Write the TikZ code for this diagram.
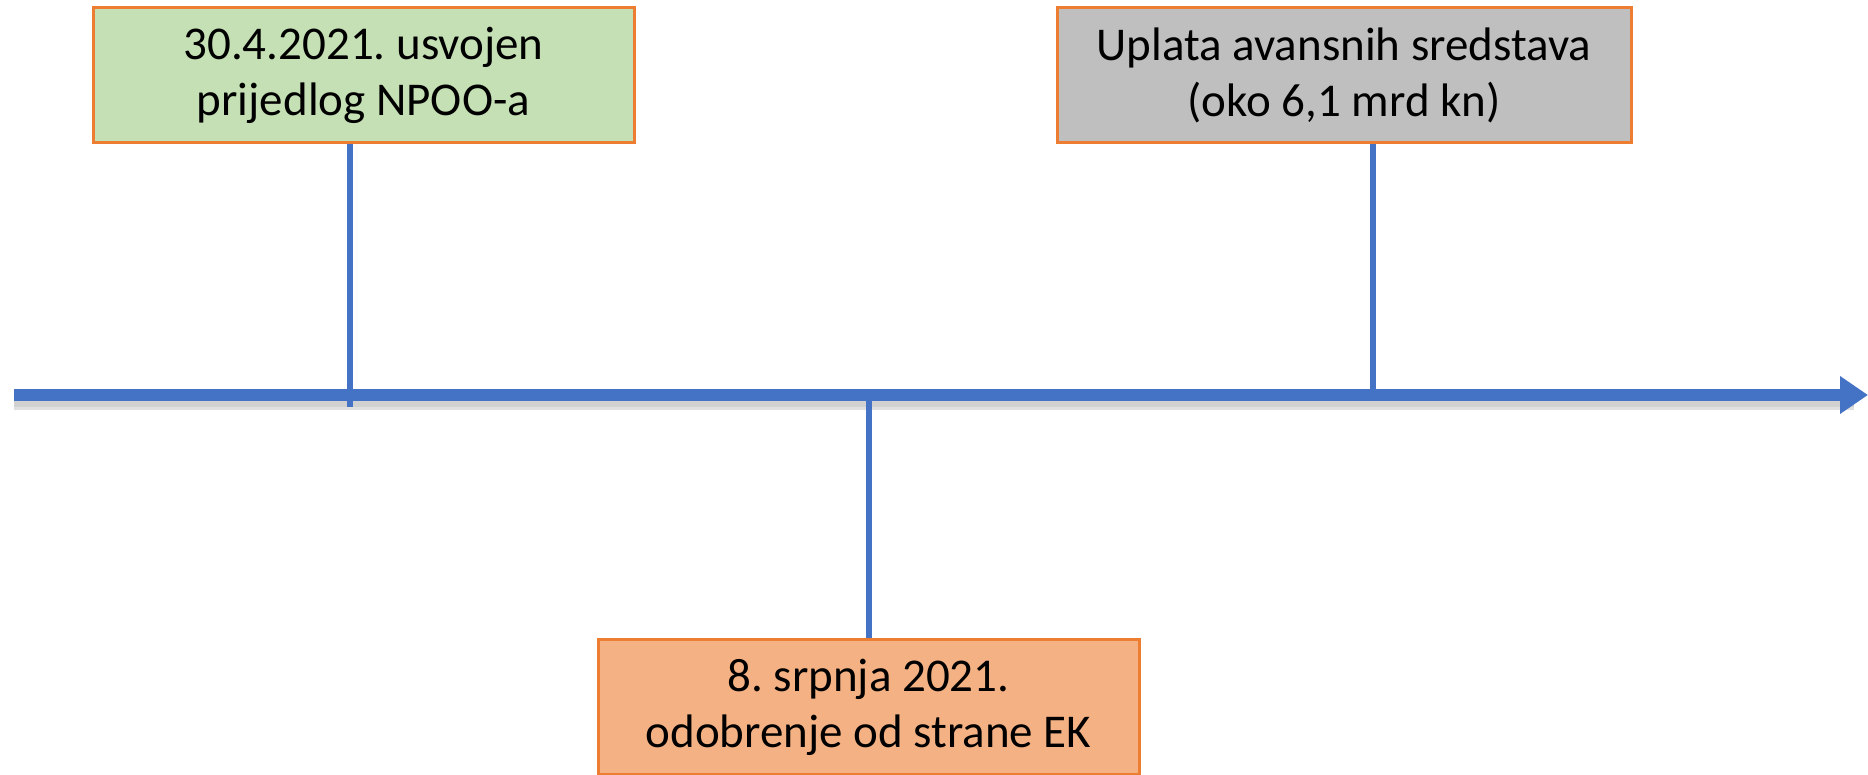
\documentclass[tikz,border=0pt]{standalone}
\usepackage{fontspec}
\setmainfont{Carlito}
\frenchspacing
\usetikzlibrary{arrows.meta}
\definecolor{axisblue}{HTML}{4472C4}
\definecolor{boxline}{HTML}{ED7D31}
\definecolor{greenfill}{HTML}{C5E0B4}
\definecolor{greyfill}{HTML}{BFBFBF}
\definecolor{orangefill}{HTML}{F4B183}

\begin{document}
\begin{tikzpicture}[x=0.5pt, y=-0.5pt,
        event/.style={draw=boxline, line width=1.5pt, minimum height=67.5pt, inner sep=0pt,
            align=center, font=\fontsize{23.5}{28}\selectfont},
        tick/.style={draw=axisblue, line width=2.6pt}]
        \useasboundingbox (0,0) rectangle (1868,775);
        % the boxes
        \node[event, fill=greenfill, minimum width=270.5pt] (adopt) at (363.5,75) {30.4.2021. usvojen\\prijedlog NPOO-a};
        \node[event, fill=greyfill, minimum width=287pt] (payment) at (1344,75) {Uplata avansnih sredstava\\(oko 6,1 mrd kn)};
        \node[event, fill=orangefill, minimum width=270.5pt] (approval) at (868.5,707) {8. srpnja 2021.\\odobrenje od strane EK};
        % time axis
        \coordinate (start) at (14,395);
        \coordinate (end) at (1868,395);
        \draw[line width=3pt, black, opacity=.18] (start) ++(0,9) -- ++(1840,0);
        \draw[line width=1.5pt, black, opacity=.12] (start) ++(0,13) -- ++(1840,0);
        \draw[line width=6pt, axisblue, -{Triangle[length=14pt, width=18pt]}] (start) -- (end);
        % ticks
        \coordinate (t1) at (350,407);
        \coordinate (t2) at (1373,390);
        \coordinate (t3) at (869,400);
        \draw[tick] (adopt.south -| t1) -- (t1);
        \draw[tick] (payment.south -| t2) -- (t2);
        \draw[tick] (t3) -- (approval.north -| t3);
    \end{tikzpicture}
\end{document}
